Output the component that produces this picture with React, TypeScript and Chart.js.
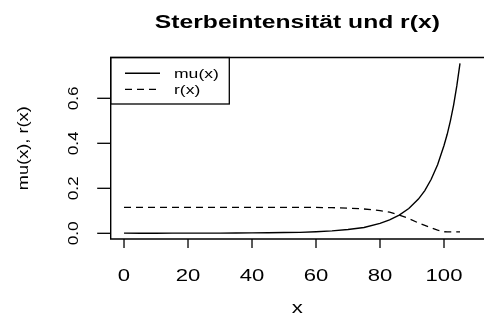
import React, { useEffect, useRef } from "react";
import { Chart, registerables } from "chart.js";

Chart.register(...registerables);

const xValues = [0, 5, 10, 15, 20, 25, 30, 35, 40, 45, 50, 55, 60, 65, 70, 75, 80, 83, 86, 89, 92, 94, 96, 98, 100, 101, 102, 103, 104, 105];
const muValues = [0.0008, 0.0004, 0.0004, 0.0006, 0.0008, 0.0009, 0.001, 0.0013, 0.0018, 0.0027, 0.0035, 0.004, 0.007, 0.011, 0.017, 0.026, 0.044, 0.06, 0.081, 0.11, 0.152, 0.19, 0.24, 0.305, 0.39, 0.44, 0.5, 0.57, 0.655, 0.755];
const rValues = [0.115, 0.115, 0.115, 0.115, 0.115, 0.115, 0.115, 0.115, 0.115, 0.115, 0.115, 0.115, 0.115, 0.114, 0.112, 0.108, 0.101, 0.094, 0.081, 0.066, 0.046, 0.035, 0.024, 0.014, 0.007, 0.006, 0.006, 0.006, 0.006, 0.006];
const xTicks = [0, 20, 40, 60, 80, 100];
const yTicks = [0.0, 0.2, 0.4, 0.6];
const yTickLabels = ["0.0", "0.2", "0.4", "0.6"];
const seriesLabels = ["mu(x)", "r(x)"];
const titleText = "Sterbeintensität und r(x)";
const xTitle = "x";
const yTitle = "mu(x), r(x)";

const FONT = '"Liberation Sans", Arial, Helvetica, sans-serif';

function drawText(ctx: CanvasRenderingContext2D, text: string, x: number, y: number, font: string, stretch: number, angle: number, align: CanvasTextAlign) {
  ctx.save();
  ctx.translate(x, y);
  ctx.rotate(angle);
  ctx.scale(stretch, 1);
  ctx.font = font;
  ctx.fillStyle = "#000";
  ctx.textAlign = align;
  ctx.textBaseline = "alphabetic";
  ctx.fillText(text, 0, 0);
  ctx.restore();
}

const rPlot = {
  id: "rPlot",
  afterDraw(chart: any) {
    const ctx: CanvasRenderingContext2D = chart.ctx;
    const xs = chart.scales.x;
    const ys = chart.scales.y;
    const a = chart.chartArea;
    ctx.save();
    ctx.strokeStyle = "#000";
    ctx.lineWidth = 1.4;
    ctx.setLineDash([]);
    // box (right edge falls outside the picture)
    ctx.beginPath();
    ctx.moveTo(a.right + 5, a.top);
    ctx.lineTo(a.left, a.top);
    ctx.lineTo(a.left, a.bottom);
    ctx.lineTo(a.right + 5, a.bottom);
    ctx.stroke();
    // x ticks
    ctx.lineWidth = 1.3;
    xTicks.forEach((v) => {
      const px = xs.getPixelForValue(v);
      ctx.beginPath();
      ctx.moveTo(px, a.bottom);
      ctx.lineTo(px, a.bottom + 9);
      ctx.stroke();
      drawText(ctx, String(v), px, 281, `16px ${FONT}`, 1.38, 0, "center");
    });
    // y ticks
    yTicks.forEach((v, i) => {
      const py = ys.getPixelForValue(v);
      ctx.beginPath();
      ctx.moveTo(a.left, py);
      ctx.lineTo(a.left - 13.5, py);
      ctx.stroke();
      drawText(ctx, yTickLabels[i], 78, py, `15px ${FONT}`, 1.15, -Math.PI / 2, "center");
    });
    // titles
    drawText(ctx, titleText, (a.left + a.right) / 2, 28, `bold 18px ${FONT}`, 1.37, 0, "center");
    drawText(ctx, xTitle, (a.left + a.right) / 2, 313, `16px ${FONT}`, 1.38, 0, "center");
    drawText(ctx, yTitle, 28, (a.top + a.bottom) / 2, `14px ${FONT}`, 1.3, -Math.PI / 2, "center");
    // legend
    const lx = a.left, ly = a.top, lw = 118.6, lh = 46.5;
    ctx.lineWidth = 1.3;
    ctx.strokeRect(lx, ly, lw, lh);
    const ds = chart.data.datasets;
    const rows = [73.3, 89.3];
    rows.forEach((yy, i) => {
      ctx.save();
      ctx.lineWidth = ds[i].borderWidth;
      ctx.setLineDash(ds[i].borderDash || []);
      ctx.beginPath();
      ctx.moveTo(125, yy);
      ctx.lineTo(160, yy);
      ctx.stroke();
      ctx.restore();
      drawText(ctx, seriesLabels[i], 174, yy + 5, `13px ${FONT}`, 1.35, 0, "left");
    });
    ctx.restore();
  },
};

export default function App() {
  const ref = useRef<HTMLCanvasElement | null>(null);
  useEffect(() => {
    if (!ref.current) return;
    const chart = new Chart(ref.current, {
      type: "line",
      data: {
        labels: xValues,
        datasets: [
          {
            label: seriesLabels[0],
            data: xValues.map((x, i) => ({ x, y: muValues[i] })),
            borderColor: "#000",
            borderWidth: 1.4,
            pointRadius: 0,
            tension: 0,
            fill: false,
          },
          {
            label: seriesLabels[1],
            data: xValues.map((x, i) => ({ x, y: rValues[i] })),
            borderColor: "#000",
            borderWidth: 1.3,
            borderDash: [7, 5],
            pointRadius: 0,
            tension: 0,
            fill: false,
          },
        ],
      },
      options: {
        animation: false,
        responsive: true,
        maintainAspectRatio: false,
        layout: { padding: { left: 110.7, top: 57.5, right: 0, bottom: 80 } },
        plugins: { legend: { display: false }, title: { display: false }, tooltip: { enabled: false } },
        scales: {
          x: { type: "linear", display: false, min: -4.16, max: 112.5 },
          y: { type: "linear", display: false, min: -0.0253, max: 0.7813 },
        },
      },
      plugins: [rPlot],
    });
    return () => chart.destroy();
  }, []);
  return (
    <div style={{ position: "absolute", left: 0, top: 0, width: 484, height: 319, background: "#fff" }}>
      <canvas ref={ref} />
    </div>
  );
}
